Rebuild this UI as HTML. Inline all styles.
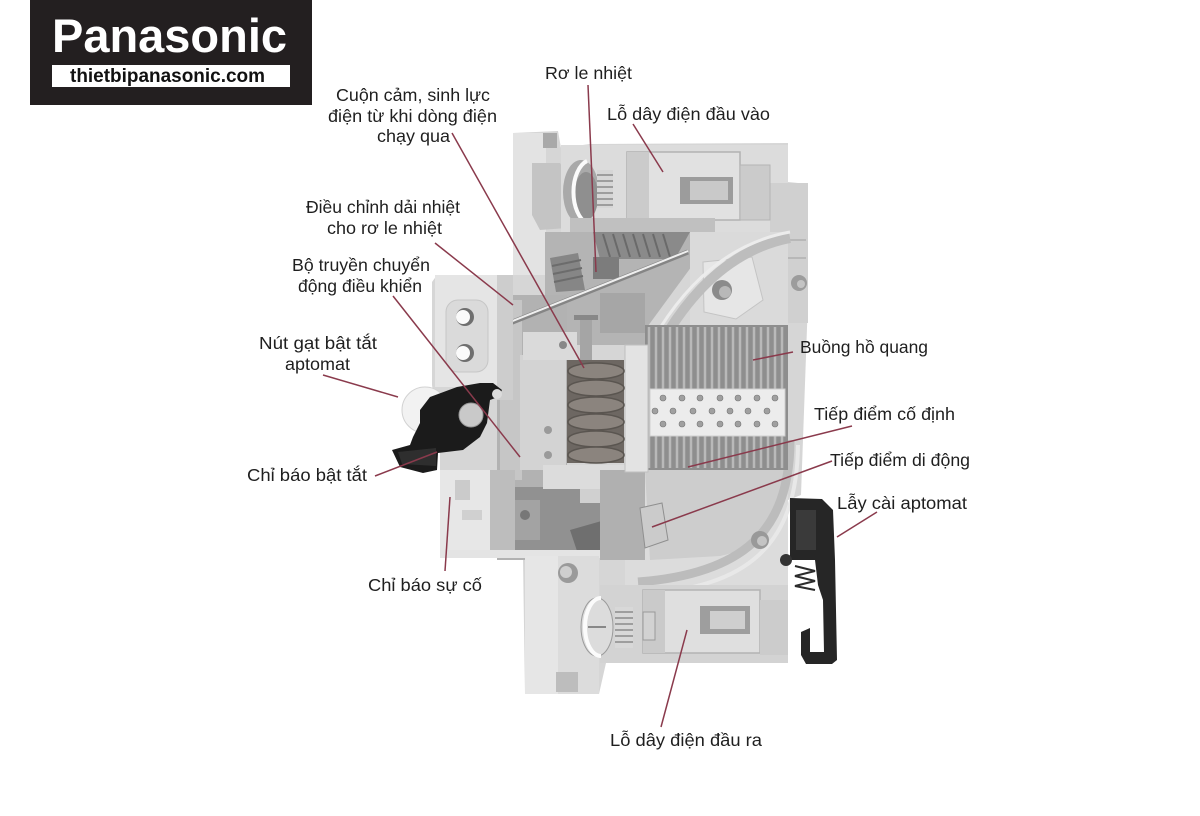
<!DOCTYPE html>
<html><head><meta charset="utf-8"><style>
html,body{margin:0;padding:0;background:#fff;}
svg{display:block;}
text{font-family:"Liberation Sans",Arial,sans-serif;}
</style></head><body>
<svg width="1200" height="816" viewBox="0 0 1200 816" xmlns="http://www.w3.org/2000/svg">
<rect width="1200" height="816" fill="#fff"/>
<!-- LOGO -->
<rect x="30" y="0" width="282" height="105" fill="#231f20"/>
<text x="52" y="52" font-size="47" font-weight="bold" fill="#fff" textLength="235" lengthAdjust="spacingAndGlyphs">Panasonic</text>
<rect x="52" y="65" width="238" height="22" fill="#fff"/>
<text x="70" y="82" font-size="19" font-weight="bold" fill="#111" textLength="195" lengthAdjust="spacingAndGlyphs">thietbipanasonic.com</text>

<!-- BREAKER BASE SILHOUETTE -->
<path d="M513,133 L558,131 L561,148 L590,144 L788,143 L788,182 L808,184 L808,300 L801,495 L788,500 L788,663 L606,663 L599,694 L525,694 L523,558 L440,558 L440,440 L432,385 L432,282 L437,275 L513,275 Z" fill="#d6d6d6"/>

<!-- left column top -->
<rect x="513" y="133" width="33" height="142" fill="#e3e3e3"/>
<path d="M532,163 L560,163 L567,175 L567,228 L540,230 L532,215 Z" fill="#c4c4c4"/>
<rect x="543" y="133" width="14" height="15" fill="#a9a9a9"/>

<!-- top housing -->
<rect x="561" y="145" width="227" height="88" fill="#dcdcdc"/>
<rect x="770" y="183" width="38" height="140" fill="#d0d0d0"/>
<line x1="775" y1="240" x2="806" y2="240" stroke="#b8b8b8" stroke-width="2"/>
<line x1="775" y1="258" x2="806" y2="258" stroke="#b8b8b8" stroke-width="2"/>
<!-- round opening -->
<ellipse cx="581" cy="192" rx="18" ry="32" fill="#a9a9a9"/>
<ellipse cx="586" cy="196" rx="12" ry="24" fill="#8f8f8f"/>
<path d="M587,161 A18,32 0 0 0 587,223" stroke="#fbfbfb" stroke-width="4" fill="none"/>
<!-- screw threads -->
<rect x="597" y="170" width="16" height="38" fill="#d6d6d6"/>
<g stroke="#8a8a8a" stroke-width="1.5">
<line x1="597" y1="175" x2="613" y2="175"/><line x1="597" y1="181" x2="613" y2="181"/><line x1="597" y1="187" x2="613" y2="187"/><line x1="597" y1="193" x2="613" y2="193"/><line x1="597" y1="199" x2="613" y2="199"/><line x1="597" y1="205" x2="613" y2="205"/>
</g>
<rect x="628" y="180" width="9" height="22" fill="#cfcfcf" stroke="#999" stroke-width="1"/>
<!-- clamp -->
<rect x="627" y="152" width="113" height="68" fill="#e1e1e1" stroke="#b2b2b2" stroke-width="1.5"/>
<rect x="627" y="152" width="22" height="68" fill="#cbcbcb"/>
<rect x="680" y="177" width="53" height="27" fill="#9c9c9c"/>
<rect x="690" y="181" width="38" height="19" fill="#c9c9c9"/>
<rect x="740" y="165" width="30" height="55" fill="#cbcbcb" stroke="#b5b5b5"/>
<rect x="570" y="218" width="145" height="14" fill="#c0c0c0"/>

<!-- cavity upper -->
<path d="M545,232 L700,232 L700,255 L645,330 L645,345 L560,345 L545,300 Z" fill="#b4b4b4"/>
<path d="M593,232 L690,232 L675,259 L600,259 Z" fill="#8a8a8a"/>
<g stroke="#6a6a6a" stroke-width="2">
<line x1="603" y1="234" x2="610" y2="257"/><line x1="613" y1="234" x2="620" y2="257"/><line x1="623" y1="234" x2="630" y2="257"/><line x1="633" y1="234" x2="640" y2="257"/><line x1="643" y1="234" x2="650" y2="257"/><line x1="653" y1="234" x2="660" y2="257"/><line x1="663" y1="234" x2="670" y2="257"/>
</g>
<path d="M550,258 L578,253 L585,290 L556,292 Z" fill="#868686"/>
<g stroke="#6c6c6c" stroke-width="2">
<line x1="552" y1="266" x2="581" y2="260"/><line x1="553" y1="274" x2="582" y2="268"/><line x1="554" y1="282" x2="583" y2="276"/>
</g>
<rect x="593" y="257" width="26" height="22" fill="#7c7c7c"/>
<rect x="600" y="293" width="45" height="40" fill="#a6a6a6"/>

<!-- right upper light area -->
<rect x="690" y="232" width="98" height="95" fill="#dadada"/>
<path d="M703,262 L752,257 L763,300 L736,319 L704,312 Z" fill="#e6e6e6" stroke="#c4c4c4"/>
<circle cx="722" cy="290" r="10" fill="#8b8b8b"/>
<circle cx="725" cy="292" r="6" fill="#b8b8b8"/>
<circle cx="799" cy="283" r="8" fill="#9c9c9c"/>
<circle cx="801" cy="284" r="4" fill="#c4c4c4"/>
<!-- arc horn curve -->
<path d="M790,238 Q718,252 668,332" stroke="#bdbdbd" stroke-width="10" fill="none"/>
<path d="M790,232 Q712,246 660,328" stroke="#ececec" stroke-width="3" fill="none"/>

<!-- mechanism left -->
<rect x="497" y="295" width="70" height="265" fill="#b2b2b2"/>
<rect x="500" y="300" width="22" height="180" fill="#c6c6c6"/>
<path d="M520,355 L566,355 L566,470 L520,470 Z" fill="#d3d3d3"/>
<circle cx="548" cy="430" r="4" fill="#9a9a9a"/>
<circle cx="548" cy="455" r="4" fill="#9a9a9a"/>
<path d="M523,332 L577,332 L577,360 L523,360 Z" fill="#dadada"/>
<circle cx="563" cy="345" r="4" fill="#888"/>
<!-- dark lower mechanism -->
<rect x="490" y="487" width="135" height="63" fill="#919191"/>
<rect x="510" y="500" width="30" height="40" fill="#a3a3a3"/>
<circle cx="525" cy="515" r="5" fill="#777"/>
<path d="M570,530 L605,520 L615,555 L580,560 Z" fill="#6f6f6f"/>
<rect x="543" y="465" width="82" height="24" fill="#dcdcdc"/>
<rect x="580" y="489" width="30" height="14" fill="#d0d0d0"/>

<!-- lower right cavity -->
<rect x="625" y="465" width="163" height="125" fill="#dcdcdc"/>
<path d="M645,470 L786,470 C786,520 760,548 720,556 L650,560 Z" fill="#cdcdcd"/>
<path d="M790,440 C790,532 742,574 638,582" stroke="#bcbcbc" stroke-width="9" fill="none"/>
<path d="M798,445 C797,545 748,588 640,594" stroke="#e8e8e8" stroke-width="4" fill="none"/>
<rect x="600" y="470" width="45" height="90" fill="#b0b0b0"/>
<path d="M640,508 L662,503 L668,540 L645,548 Z" fill="#cbcbcb" stroke="#8f8f8f"/>
<circle cx="760" cy="540" r="9" fill="#999"/>
<circle cx="762" cy="541" r="5" fill="#c4c4c4"/>

<!-- arc chamber -->
<rect x="645" y="325" width="143" height="145" fill="#8e8e8e"/>
<g stroke="#b9b9b9" stroke-width="2.5">
<line x1="649" y1="327" x2="649" y2="468"/><line x1="656" y1="327" x2="656" y2="468"/><line x1="663" y1="327" x2="663" y2="468"/><line x1="670" y1="327" x2="670" y2="468"/><line x1="677" y1="327" x2="677" y2="468"/><line x1="684" y1="327" x2="684" y2="468"/><line x1="691" y1="327" x2="691" y2="468"/><line x1="698" y1="327" x2="698" y2="468"/><line x1="705" y1="327" x2="705" y2="468"/><line x1="712" y1="327" x2="712" y2="468"/><line x1="719" y1="327" x2="719" y2="468"/><line x1="726" y1="327" x2="726" y2="468"/><line x1="733" y1="327" x2="733" y2="468"/><line x1="740" y1="327" x2="740" y2="468"/><line x1="747" y1="327" x2="747" y2="468"/><line x1="754" y1="327" x2="754" y2="468"/><line x1="761" y1="327" x2="761" y2="468"/><line x1="768" y1="327" x2="768" y2="468"/><line x1="775" y1="327" x2="775" y2="468"/><line x1="782" y1="327" x2="782" y2="468"/>
</g>
<rect x="650" y="389" width="135" height="47" fill="#ececec" stroke="#cfcfcf"/>
<g fill="#a0a0a0" stroke="#777" stroke-width="0.6">
<circle cx="663" cy="398" r="3"/><circle cx="682" cy="398" r="3"/><circle cx="700" cy="398" r="3"/><circle cx="720" cy="398" r="3"/><circle cx="738" cy="398" r="3"/><circle cx="757" cy="398" r="3"/><circle cx="775" cy="398" r="3"/>
<circle cx="655" cy="411" r="3"/><circle cx="673" cy="411" r="3"/><circle cx="693" cy="411" r="3"/><circle cx="712" cy="411" r="3"/><circle cx="730" cy="411" r="3"/><circle cx="748" cy="411" r="3"/><circle cx="767" cy="411" r="3"/>
<circle cx="663" cy="424" r="3"/><circle cx="682" cy="424" r="3"/><circle cx="700" cy="424" r="3"/><circle cx="720" cy="424" r="3"/><circle cx="738" cy="424" r="3"/><circle cx="757" cy="424" r="3"/><circle cx="775" cy="424" r="3"/>
</g>

<!-- coil & plate -->
<rect x="625" y="345" width="23" height="127" fill="#e3e3e3" stroke="#bfbfbf"/>
<rect x="580" y="318" width="12" height="42" fill="#a5a5a5"/>
<rect x="574" y="315" width="24" height="5" fill="#888"/>
<rect x="567" y="360" width="57" height="103" fill="#6d6762"/>
<g fill="#8b847e" stroke="#5a5550" stroke-width="1.5">
<ellipse cx="596" cy="371" rx="28" ry="8"/><ellipse cx="596" cy="388" rx="28" ry="8"/><ellipse cx="596" cy="405" rx="28" ry="8"/><ellipse cx="596" cy="422" rx="28" ry="8"/><ellipse cx="596" cy="439" rx="28" ry="8"/><ellipse cx="596" cy="455" rx="28" ry="8"/>
</g>

<!-- diagonal rod -->
<line x1="505" y1="325" x2="688" y2="252" stroke="#858585" stroke-width="5"/>
<line x1="505" y1="324" x2="688" y2="251" stroke="#efefef" stroke-width="2"/>

<!-- left handle block -->
<rect x="497" y="275" width="16" height="125" fill="#cdcdcd"/>
<rect x="435" y="275" width="62" height="112" fill="#e5e5e5"/>
<rect x="446" y="300" width="42" height="72" rx="12" fill="#dadada" stroke="#c6c6c6"/>
<circle cx="465" cy="317" r="9" fill="#6f6f6f"/>
<circle cx="463" cy="317" r="7" fill="#fafafa"/>
<circle cx="465" cy="353" r="9" fill="#6f6f6f"/>
<circle cx="463" cy="353" r="7" fill="#fafafa"/>
<!-- indicator -->
<rect x="440" y="470" width="50" height="88" fill="#e7e7e7"/>
<rect x="455" y="480" width="15" height="20" fill="#cbcbcb"/>
<rect x="462" y="510" width="20" height="10" fill="#d0d0d0"/>
<rect x="490" y="470" width="25" height="85" fill="#bdbdbd"/>
<rect x="440" y="550" width="160" height="8" fill="#e4e4e4"/>

<!-- bottom left column -->
<rect x="525" y="556" width="74" height="138" fill="#dcdcdc"/>
<rect x="525" y="556" width="33" height="138" fill="#e6e6e6"/>
<circle cx="568" cy="573" r="10" fill="#9a9a9a"/>
<circle cx="566" cy="572" r="6" fill="#cfcfcf"/>
<rect x="556" y="672" width="22" height="20" fill="#bdbdbd"/>

<!-- bottom terminal -->
<rect x="600" y="585" width="188" height="78" fill="#d3d3d3"/>
<rect x="643" y="590" width="117" height="63" fill="#dfdfdf" stroke="#b3b3b3" stroke-width="1.5"/>
<rect x="643" y="590" width="22" height="63" fill="#cacaca"/>
<rect x="700" y="606" width="50" height="28" fill="#9e9e9e"/>
<rect x="710" y="611" width="35" height="18" fill="#cfcfcf"/>
<rect x="760" y="600" width="28" height="55" fill="#cccccc"/>
<ellipse cx="597" cy="627" rx="16" ry="29" fill="#dcdcdc" stroke="#9a9a9a"/>
<path d="M601,598 A16,29 0 0 0 601,656" stroke="#fbfbfb" stroke-width="4" fill="none"/>
<line x1="588" y1="627" x2="606" y2="627" stroke="#888" stroke-width="2"/>
<rect x="615" y="607" width="18" height="41" fill="#d8d8d8"/>
<g stroke="#8a8a8a" stroke-width="1.5">
<line x1="615" y1="612" x2="633" y2="612"/><line x1="615" y1="618" x2="633" y2="618"/><line x1="615" y1="624" x2="633" y2="624"/><line x1="615" y1="630" x2="633" y2="630"/><line x1="615" y1="636" x2="633" y2="636"/><line x1="615" y1="642" x2="633" y2="642"/>
</g>
<rect x="643" y="612" width="12" height="28" fill="#d2d2d2" stroke="#999"/>

<!-- handle -->
<circle cx="425" cy="410" r="23" fill="#f2f2f2" stroke="#d2d2d2"/>
<path d="M430,397 L457,387 L480,383 L493,383 L502,390 L498,397 L490,400 L487,423 L480,437 L463,450 L438,453 L437,470 L423,473 L400,467 L392,450 L410,445 L413,437 L420,423 L420,410 Z" fill="#1b1b1b"/>
<path d="M398,452 L436,448 L436,466 L402,464 Z" fill="#2e2e2e"/>
<circle cx="471" cy="415" r="12" fill="#c9c9c9" stroke="#999"/>
<circle cx="497" cy="394" r="5" fill="#dcdcdc"/>

<!-- latch -->
<path d="M790,498 L822,499 L833,510 L835,560 L837,660 L832,664 L806,664 L801,655 L801,632 L810,628 L810,652 L824,652 L823,600 L818,585 L815,560 L790,560 Z" fill="#262626"/>
<rect x="796" y="510" width="20" height="40" fill="#3a3a3a"/>
<circle cx="786" cy="560" r="6" fill="#333"/>
<path d="M795,566 L815,571 L795,576 L815,581 L795,586 L815,590" stroke="#2c2c2c" stroke-width="2" fill="none"/>

<!-- LEADER LINES -->
<g stroke="#8a3a4c" stroke-width="1.5" fill="none">
<line x1="588" y1="85" x2="596" y2="272"/>
<line x1="633" y1="124" x2="663" y2="172"/>
<line x1="452" y1="133" x2="584" y2="368"/>
<line x1="435" y1="243" x2="513" y2="305"/>
<line x1="393" y1="296" x2="520" y2="457"/>
<line x1="323" y1="375" x2="398" y2="397"/>
<line x1="375" y1="476" x2="437" y2="452"/>
<line x1="450" y1="497" x2="445" y2="571"/>
<line x1="793" y1="352" x2="753" y2="360"/>
<line x1="852" y1="426" x2="688" y2="467"/>
<line x1="832" y1="461" x2="652" y2="527"/>
<line x1="877" y1="512" x2="837" y2="537"/>
<line x1="661" y1="727" x2="687" y2="630"/>
</g>

<!-- LABELS -->
<g font-size="17.5" fill="#1f1f1f">
<text x="545" y="79" textLength="87" lengthAdjust="spacingAndGlyphs">Rơ le nhiệt</text>
<text x="607" y="120" textLength="163" lengthAdjust="spacingAndGlyphs">Lỗ dây điện đầu vào</text>
<text x="336" y="101" textLength="154" lengthAdjust="spacingAndGlyphs">Cuộn cảm, sinh lực</text>
<text x="328" y="122" textLength="169" lengthAdjust="spacingAndGlyphs">điện từ khi dòng điện</text>
<text x="377" y="142" textLength="73" lengthAdjust="spacingAndGlyphs">chạy qua</text>
<text x="306" y="213" textLength="154" lengthAdjust="spacingAndGlyphs">Điều chỉnh dải nhiệt</text>
<text x="327" y="234" textLength="115" lengthAdjust="spacingAndGlyphs">cho rơ le nhiệt</text>
<text x="292" y="271" textLength="138" lengthAdjust="spacingAndGlyphs">Bộ truyền chuyển</text>
<text x="298" y="292" textLength="124" lengthAdjust="spacingAndGlyphs">động điều khiển</text>
<text x="259" y="349" textLength="118" lengthAdjust="spacingAndGlyphs">Nút gạt bật tắt</text>
<text x="285" y="370" textLength="65" lengthAdjust="spacingAndGlyphs">aptomat</text>
<text x="247" y="481" textLength="120" lengthAdjust="spacingAndGlyphs">Chỉ báo bật tắt</text>
<text x="368" y="591" textLength="114" lengthAdjust="spacingAndGlyphs">Chỉ báo sự cố</text>
<text x="800" y="353" textLength="128" lengthAdjust="spacingAndGlyphs">Buồng hồ quang</text>
<text x="814" y="420" textLength="141" lengthAdjust="spacingAndGlyphs">Tiếp điểm cố định</text>
<text x="830" y="466" textLength="140" lengthAdjust="spacingAndGlyphs">Tiếp điểm di động</text>
<text x="837" y="509" textLength="130" lengthAdjust="spacingAndGlyphs">Lẫy cài aptomat</text>
<text x="610" y="746" textLength="152" lengthAdjust="spacingAndGlyphs">Lỗ dây điện đầu ra</text>
</g>
</svg>
</body></html>
